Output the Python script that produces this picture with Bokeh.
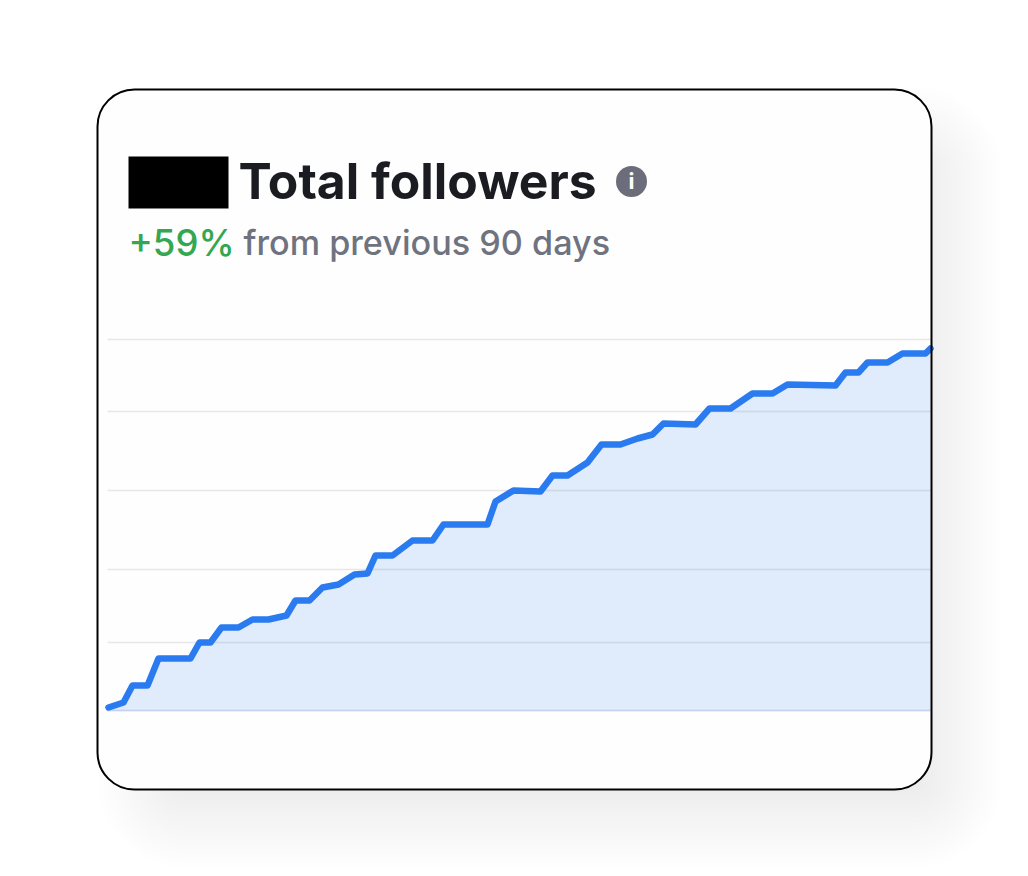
import numpy as np
from bokeh.plotting import figure
from bokeh.models import BoxAnnotation, Range1d, ColumnDataSource
from bokeh.core.properties import value
from bokeh.embed import file_html
from bokeh.resources import INLINE

title = "Total followers"
change = "+59%"
subtitle = "from previous 90 days"

# position along the 90-day window (chart units) and followers (chart units)
timeline = [1, 16, 25, 40, 51, 83, 92, 103, 114, 131, 145, 161, 179, 188, 202, 215, 231, 247, 260, 268, 285,
            305, 325, 336, 380, 388, 406, 433, 445, 460, 480, 494, 513, 530, 545, 556, 588, 602, 623, 645,
            665, 680, 728, 738, 751, 760, 780, 795, 818, 823]
followers = [3, 8, 25, 25, 52, 52, 68, 68, 83, 83, 91, 91, 95, 110, 110, 123, 126, 136, 137, 155, 155,
             170, 170, 186, 186, 209, 220, 219, 235, 235, 248, 266, 266, 272, 276, 287, 286, 302, 302, 317,
             317, 326, 325, 338, 338, 348, 348, 357, 357, 362]
grid_levels = [0, 68, 141, 220, 299, 371]
chart_start, chart_end = 0, 823

LINE = "#2a7bef"
FILL = "#c7dbfa"
GRID = "#e6e7eb"
GRID_UNDER = "#ced7e7"

p = figure(width=1020, height=868, output_backend="svg", toolbar_location=None,
           x_range=Range1d(-107, 913), y_range=Range1d(-158, 710),
           x_axis_type=None, y_axis_type=None, min_border=0, outline_line_color=None,
           background_fill_color="white", border_fill_color="white")
p.grid.visible = False

# card geometry in chart units
cl, cr, ct, cb = -10, 824, 621, -79

# soft shadow
for i in range(20):
    d = 48 - i * 4.5
    p.add_layout(BoxAnnotation(left=cl + 48 - d, right=cr + 22 + d, top=ct - 45 + d, bottom=cb - 30 - d,
                               fill_color="#000000", fill_alpha=0.0026, line_color=None,
                               border_radius=int(max(0, 40 + d)), level="underlay"))

p.add_layout(BoxAnnotation(left=cl, right=cr, top=ct, bottom=cb, fill_color="#fefefe", fill_alpha=1,
                           line_color=None, border_radius=37, level="underlay"))

grid_src = ColumnDataSource(dict(x0=[chart_start] * len(grid_levels), x1=[chart_end] * len(grid_levels),
                                 y=grid_levels))
p.segment("x0", "y", "x1", "y", source=grid_src, line_color=GRID, line_width=1.5)

src = ColumnDataSource(dict(x=timeline, y=followers, base=[0] * len(timeline)))
p.varea("x", "y", "base", source=src, fill_color=FILL, fill_alpha=0.55)

# the part of each grid line that lies under the curve reads darker through the fill
under = [g for g in grid_levels if 0 < g < max(followers)]
crossings = np.interp(under, np.maximum.accumulate(followers), timeline)
p.segment(crossings, under, [chart_end] * len(under), under, line_color=GRID_UNDER, line_width=1.5)
p.segment([chart_start], [0], [chart_end], [0], line_color="#c3d2ee", line_width=1.5)

p.line("x", "y", source=src, line_color=LINE, line_width=6.5, line_join="round", line_cap="round")

# redaction block
p.add_layout(BoxAnnotation(left=21, right=121, top=554, bottom=502, fill_color="black", fill_alpha=1,
                           line_color=None, level="overlay"))

p.text([131], [530], text=[title], text_font=value("Inter"), text_font_style="bold",
       text_font_size="49.8px", text_color="#1b1c22", text_baseline="alphabetic")
p.text([21], [468], text=[change], text_font=value("Inter Medium"), text_font_size="36.5px",
       text_color="#35a651", text_baseline="alphabetic")
p.text([136], [468], text=[subtitle], text_font=value("Inter Medium"), text_font_size="34.2px",
       text_color="#6f7380", text_baseline="alphabetic")

p.scatter([524], [529], size=31, marker="circle", fill_color="#6b6e7a", line_color=None)
p.text([524], [529.5], text=["i"], text_font=value("Inter"), text_font_style="bold", text_font_size="22px",
       text_color="white", text_align="center", text_baseline="alphabetic")

# card outline on top, hides the line end at the right edge
p.add_layout(BoxAnnotation(left=cl, right=cr, top=ct, bottom=cb, fill_alpha=0, line_color="black",
                           line_alpha=1, line_width=2, border_radius=37, level="overlay"))

open("out.html", "w").write(file_html(p, INLINE))
